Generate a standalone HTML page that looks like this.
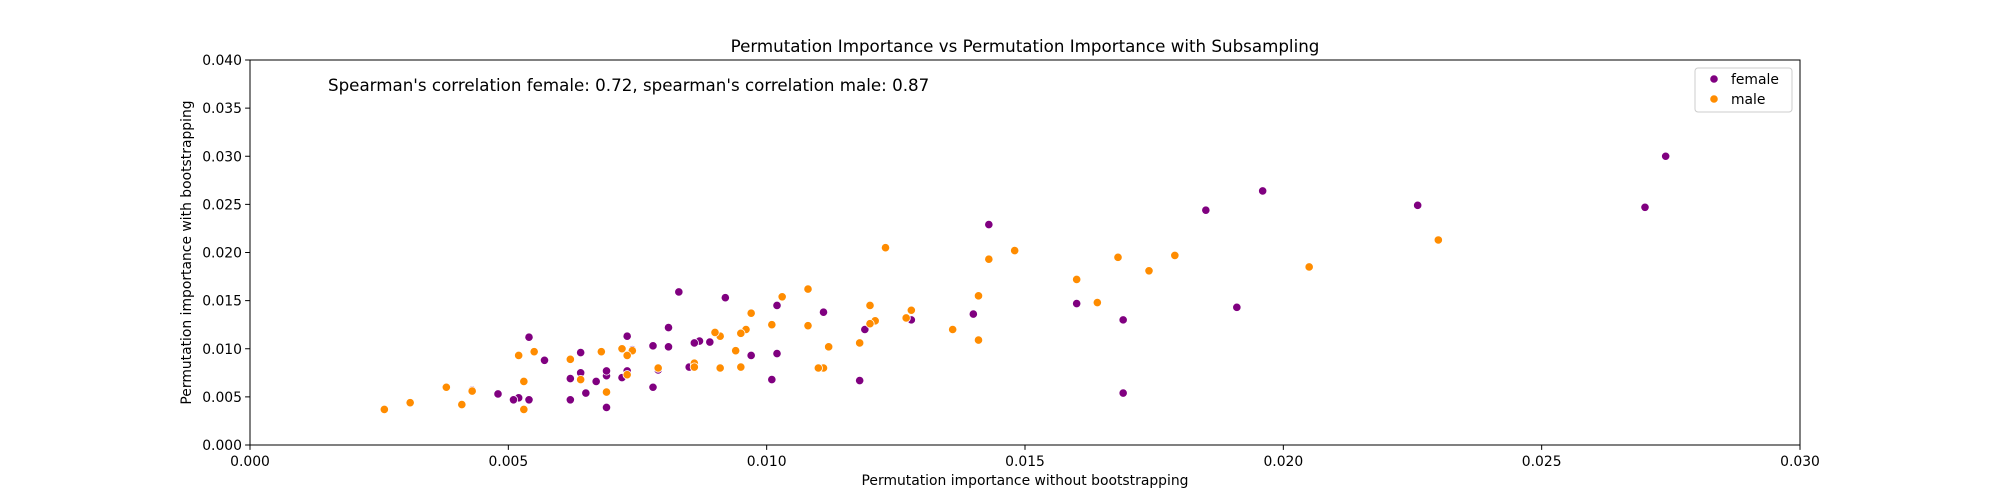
<!DOCTYPE html>
<html><head><meta charset="utf-8"><style>
html,body{margin:0;padding:0;background:#fff;}
svg{display:block;font-family:"DejaVu Sans","Liberation Sans",sans-serif;}
</style></head><body>
<svg id="chart" width="2000" height="500" viewBox="0 0 2000 500">
<g id="axes"></g>
<g id="points"></g>
<rect x="250" y="60" width="1550" height="385" fill="none" stroke="#000" stroke-width="1"/>
<text x="1025" y="52" font-size="16.7" text-anchor="middle">Permutation Importance vs Permutation Importance with Subsampling</text>
<text x="1025" y="485" font-size="13.9" text-anchor="middle">Permutation importance without bootstrapping</text>
<text transform="translate(191,252.5) rotate(-90)" font-size="13.9" text-anchor="middle">Permutation importance with bootstrapping</text>
<text x="328" y="91" font-size="16.7">Spearman's correlation female: 0.72, spearman's correlation male: 0.87</text>
<g>
<rect x="1695" y="68" width="97" height="44" rx="3" fill="#fff" stroke="#ccc" stroke-width="1"/>
<g><circle cx="1714" cy="79" r="4.2" fill="#800080" stroke="#fff" stroke-width="0.8"/><text x="1731" y="84" font-size="13.9">female</text></g>
<g><circle cx="1714" cy="99" r="4.2" fill="#ff8c00" stroke="#fff" stroke-width="0.8"/><text x="1731" y="104" font-size="13.9">male</text></g>
</g>
</svg>
<script>
const xTicks = [0, 0.005, 0.010, 0.015, 0.020, 0.025, 0.030];
const yTicks = [0, 0.005, 0.010, 0.015, 0.020, 0.025, 0.030, 0.035, 0.040];
const femaleX = [0.0274,0.0270,0.0226,0.0196,0.0185,0.0143,0.0191,0.0160,0.0169,0.0169,0.0140,0.0128,0.0119,0.0118,0.0111,0.0102,0.0102,0.0101,0.0092,0.0083,0.0097,0.0089,0.0087,0.0086,0.0085,0.0081,0.0081,0.0079,0.0078,0.0078,0.0074,0.0073,0.0073,0.0072,0.0069,0.0069,0.0069,0.0067,0.0065,0.0064,0.0064,0.0062,0.0062,0.0057,0.0054,0.0054,0.0052,0.0051,0.0048,0.0043];
const femaleY = [0.0300,0.0247,0.0249,0.0264,0.0244,0.0229,0.0143,0.0147,0.0130,0.0054,0.0136,0.0130,0.0120,0.0067,0.0138,0.0145,0.0095,0.0068,0.0153,0.0159,0.0093,0.0107,0.0108,0.0106,0.0081,0.0122,0.0102,0.0078,0.0060,0.0103,0.0099,0.0077,0.0113,0.0070,0.0039,0.0072,0.0077,0.0066,0.0054,0.0075,0.0096,0.0047,0.0069,0.0088,0.0112,0.0047,0.0049,0.0047,0.0053,0.0057];
const maleX = [0.0230,0.0205,0.0179,0.0174,0.0168,0.0164,0.0160,0.0148,0.0143,0.0141,0.0141,0.0136,0.0128,0.0127,0.0123,0.0121,0.0120,0.0120,0.0118,0.0112,0.0111,0.0110,0.0108,0.0108,0.0103,0.0101,0.0097,0.0096,0.0095,0.0095,0.0094,0.0091,0.0090,0.0091,0.0086,0.0086,0.0079,0.0074,0.0073,0.0073,0.0072,0.0069,0.0068,0.0064,0.0062,0.0055,0.0052,0.0053,0.0053,0.0043,0.0041,0.0038,0.0031,0.0026];
const maleY = [0.0213,0.0185,0.0197,0.0181,0.0195,0.0148,0.0172,0.0202,0.0193,0.0155,0.0109,0.0120,0.0140,0.0132,0.0205,0.0129,0.0126,0.0145,0.0106,0.0102,0.0080,0.0080,0.0124,0.0162,0.0154,0.0125,0.0137,0.0120,0.0116,0.0081,0.0098,0.0113,0.0117,0.0080,0.0085,0.0081,0.0080,0.0098,0.0073,0.0093,0.0100,0.0055,0.0097,0.0068,0.0089,0.0097,0.0093,0.0066,0.0037,0.0056,0.0042,0.0060,0.0044,0.0037];

const X0=250, X1=1800, Y0=445, Y1=60;
const xS = v => X0 + (v - 0) / 0.030 * (X1 - X0);
const yS = v => Y0 - (v - 0) / 0.040 * (Y0 - Y1);
const NS = "http://www.w3.org/2000/svg";
const axes = document.getElementById('axes');
const pts = document.getElementById('points');

xTicks.forEach(t => {
  const l = document.createElementNS(NS,'line');
  l.setAttribute('x1',xS(t)); l.setAttribute('x2',xS(t));
  l.setAttribute('y1',Y0); l.setAttribute('y2',Y0+4.9);
  l.setAttribute('stroke','#000'); l.setAttribute('stroke-width','1');
  
  
  axes.appendChild(l);
  const tx = document.createElementNS(NS,'text');
  tx.setAttribute('x',xS(t)); tx.setAttribute('y',Y0+21);
  tx.setAttribute('font-size','13.9'); tx.setAttribute('text-anchor','middle');
  tx.textContent = t.toFixed(3);
  
  
  axes.appendChild(tx);
});
yTicks.forEach(t => {
  const l = document.createElementNS(NS,'line');
  l.setAttribute('x1',X0-4.9); l.setAttribute('x2',X0);
  l.setAttribute('y1',yS(t)); l.setAttribute('y2',yS(t));
  l.setAttribute('stroke','#000'); l.setAttribute('stroke-width','1');
  
  
  axes.appendChild(l);
  const tx = document.createElementNS(NS,'text');
  tx.setAttribute('x',X0-8); tx.setAttribute('y',yS(t)+5);
  tx.setAttribute('font-size','13.9'); tx.setAttribute('text-anchor','end');
  tx.textContent = t.toFixed(3);
  
  
  axes.appendChild(tx);
});
function drawSeries(xs, ys, color, name){
  xs.forEach((v,i) => {
    const c = document.createElementNS(NS,'circle');
    c.setAttribute('cx',xS(v)); c.setAttribute('cy',yS(ys[i]));
    c.setAttribute('r','4.2'); c.setAttribute('fill',color);
    c.setAttribute('stroke','#fff'); c.setAttribute('stroke-width','0.8');
    
    
    pts.appendChild(c);
  });
}
drawSeries(femaleX, femaleY, '#800080', 'female-point');
drawSeries(maleX, maleY, '#ff8c00', 'male-point');
</script>
</body></html>
